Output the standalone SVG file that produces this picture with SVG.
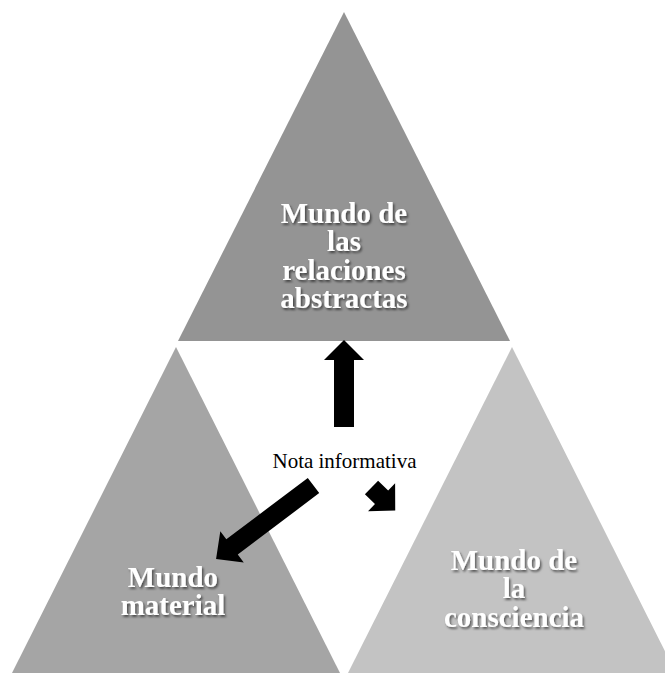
<svg xmlns="http://www.w3.org/2000/svg" width="665" height="675" viewBox="0 0 665 675">
<defs>
<style>
.lbl{font-family:"Liberation Serif","Times New Roman",serif;font-weight:bold;font-size:29px;fill:#ffffff;text-anchor:middle;filter:url(#sh)}
.note{font-family:"Liberation Serif","Times New Roman",serif;font-size:21px;fill:#000000;text-anchor:middle}
.arr{fill:#000000}
</style>
<filter id="sh" x="-20%" y="-20%" width="140%" height="160%">
<feDropShadow dx="1.5" dy="2" stdDeviation="1.3" flood-color="#000000" flood-opacity="0.55"/>
</filter>
</defs>
<rect width="665" height="675" fill="#ffffff"/>
<g id="top">
<polygon points="344,12 510,341 178,341" fill="#949494"/>
<text class="lbl"><tspan x="344" y="223">Mundo de</tspan><tspan x="344" y="251">las</tspan><tspan x="344" y="280">relaciones</tspan><tspan x="344" y="308">abstractas</tspan></text>
</g>
<g id="left">
<polygon points="176,347 340,673 12,673" fill="#a5a5a5"/>
<text class="lbl"><tspan x="173" y="587">Mundo</tspan><tspan x="173" y="615">material</tspan></text>
</g>
<g id="right">
<polygon points="512,347 676,673 348,673" fill="#c3c3c3"/>
<text class="lbl"><tspan x="514" y="570">Mundo de</tspan><tspan x="514" y="598">la</tspan><tspan x="514" y="627">consciencia</tspan></text>
</g>
<g id="note">
<text class="note" x="344.5" y="468">Nota informativa</text>
</g>
<g id="connectors">
<polygon class="arr" points="334,427 334,360 324,360 344,340 364,360 354,360 354,427"/>
<polygon class="arr" transform="translate(313.5,485.5) rotate(143)" points="0,-9.5 102,-9.5 102,-19.5 122,0 102,19.5 102,9.5 0,9.5"/>
<polygon class="arr" transform="translate(371.5,487.5) rotate(44)" points="0,-9.5 14,-9.5 14,-19.5 33,0 14,19.5 14,9.5 0,9.5"/>
</g>
</svg>
